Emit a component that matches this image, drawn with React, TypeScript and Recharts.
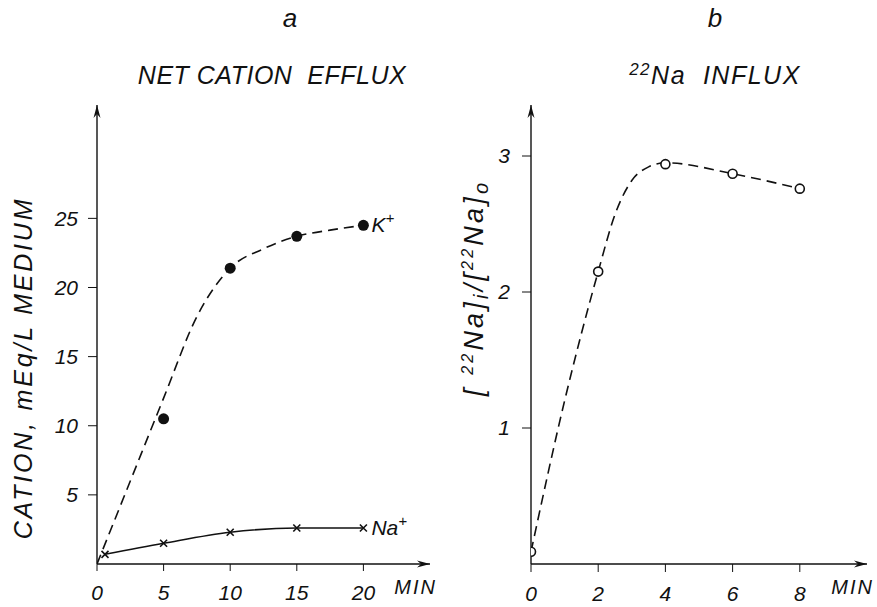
import React from "react";
import {
  ComposedChart,
  Line,
  Scatter,
  XAxis,
  YAxis,
  Label,
} from "recharts";

// panel a: net cation efflux (mEq/L medium vs min)
const effluxTicksX = [0, 5, 10, 15, 20];
const effluxTicksY = [5, 10, 15, 20, 25];
const kMeasured = [
  { t: 5, v: 10.5 },
  { t: 10, v: 21.4 },
  { t: 15, v: 23.7 },
  { t: 20, v: 24.5 },
];
// dashed K+ curve as drawn by hand in the figure
const kCurve = [
  { t: 0, v: 0 },
  { t: 2.5, v: 6 },
  { t: 5, v: 12 },
  { t: 7.5, v: 17.9 },
  { t: 10, v: 21.4 },
  { t: 12.5, v: 22.8 },
  { t: 15, v: 23.7 },
  { t: 17.5, v: 24.15 },
  { t: 20, v: 24.5 },
];
const naMeasured = [
  { t: 0.6, v: 0.7 },
  { t: 5, v: 1.5 },
  { t: 10, v: 2.3 },
  { t: 15, v: 2.6 },
  { t: 20, v: 2.6 },
];

// panel b: 22Na influx ratio vs min
const influxTicksX = [0, 2, 4, 6, 8];
const influxTicksY = [1, 2, 3];
const influxMeasured = [
  { t: 0, v: 0.09 },
  { t: 2, v: 2.15 },
  { t: 4, v: 2.94 },
  { t: 6, v: 2.87 },
  { t: 8, v: 2.76 },
];
const influxCurve = [
  { t: 0, v: 0.09 },
  { t: 1, v: 1.2 },
  { t: 2, v: 2.15 },
  { t: 2.5, v: 2.57 },
  { t: 3, v: 2.82 },
  { t: 3.5, v: 2.92 },
  { t: 4, v: 2.95 },
  { t: 6, v: 2.87 },
  { t: 8, v: 2.76 },
];

const FONT = "'Liberation Sans', Arial, sans-serif";
const INK = "#111";
const tickStyle = { fontSize: 21, fill: INK, fontStyle: "italic", fontFamily: FONT };

function ArrowDefs({ id }: { id: string }) {
  return (
    <defs>
      <marker
        id={id}
        markerUnits="userSpaceOnUse"
        markerWidth={14}
        markerHeight={10}
        refX={13}
        refY={5}
        orient="auto-start-reverse"
      >
        <path d="M0,1.5 L13,5 L0,8.5 L4,5 Z" fill={INK} />
      </marker>
    </defs>
  );
}

const minLabel = (props: any) => {
  const vb = props.viewBox;
  return (
    <text
      x={vb.x + vb.width + 7}
      y={vb.y + 30}
      textAnchor="end"
      fontSize={20}
      fontStyle="italic"
      fontFamily={FONT}
      fill={INK}
      letterSpacing={2}
    >
      MIN
    </text>
  );
};

const effluxYLabel = (props: any) => {
  const vb = props.viewBox;
  const cx = vb.x + 23;
  const cy = vb.y + 263;
  return (
    <text
      x={cx}
      y={cy}
      transform={`rotate(-90, ${cx}, ${cy})`}
      textAnchor="middle"
      dy={9}
      fontSize={25}
      fontStyle="italic"
      fontFamily={FONT}
      fill={INK}
      letterSpacing={2.8}
    >
      CATION, mEq/L MEDIUM
    </text>
  );
};

const influxYLabel = (props: any) => {
  const vb = props.viewBox;
  const cx = vb.x + 35;
  const cy = vb.y + 183;
  return (
    <text
      x={cx}
      y={cy}
      transform={`rotate(-90, ${cx}, ${cy})`}
      textAnchor="middle"
      dy={8}
      fontSize={27}
      fontStyle="italic"
      fontFamily={FONT}
      fill={INK}
      letterSpacing={3.2}
    >
      [ <tspan fontSize={16} dy={-10}>22</tspan>
      <tspan dy={10}>Na]</tspan>
      <tspan fontSize={20} dy={5}>i</tspan>
      <tspan dy={-5}>/[</tspan>
      <tspan fontSize={16} dy={-10}>22</tspan>
      <tspan dy={10}>Na]</tspan>
      <tspan fontSize={20} dy={5}>o</tspan>
    </text>
  );
};

const endLabel = (name: string, lastIndex: number) => (p: any) => {
  if (p.index !== lastIndex) return null;
  return (
    <text
      key={name}
      x={p.x + 8}
      y={p.y + 7}
      fontSize={21}
      fontStyle="italic"
      fontFamily={FONT}
      fill={INK}
    >
      {name}
      <tspan fontSize={15} dy={-9}>+</tspan>
    </text>
  );
};

const crossDot = (p: any) => {
  const s = 3.5;
  return (
    <path
      key={`x-${p.index}`}
      d={`M${p.cx - s},${p.cy - s}L${p.cx + s},${p.cy + s}M${p.cx - s},${p.cy + s}L${p.cx + s},${p.cy - s}`}
      stroke={INK}
      strokeWidth={1.6}
    />
  );
};

function EffluxChart() {
  return (
    <ComposedChart width={440} height={607} margin={{ top: 105, right: 10, left: 0, bottom: 13 }}>
      <ArrowDefs id="arrow-a" />
      <XAxis
        type="number"
        dataKey="t"
        domain={[0, 25]}
        ticks={effluxTicksX}
        allowDataOverflow
        height={30}
        tickSize={7}
        tickMargin={14}
        tick={tickStyle}
        tickLine={{ stroke: INK, strokeWidth: 1 }}
        axisLine={{ stroke: INK, strokeWidth: 1.4, markerEnd: "url(#arrow-a)" }}
        label={<Label content={minLabel} />}
      />
      <YAxis
        type="number"
        dataKey="v"
        domain={[0, 33.2]}
        ticks={effluxTicksY}
        allowDataOverflow
        width={97}
        tickSize={9}
        tickMargin={10}
        tick={tickStyle}
        tickLine={{ stroke: INK, strokeWidth: 1 }}
        axisLine={{ stroke: INK, strokeWidth: 1.4, markerStart: "url(#arrow-a)" }}
        label={<Label content={effluxYLabel} />}
      />
      <Line
        data={kCurve}
        dataKey="v"
        type="monotone"
        stroke={INK}
        strokeWidth={1.6}
        strokeDasharray="10 6"
        dot={false}
        activeDot={false}
        isAnimationActive={false}
        label={endLabel("K", kCurve.length - 1)}
      />
      <Line
        data={naMeasured}
        dataKey="v"
        type="monotone"
        stroke={INK}
        strokeWidth={1.5}
        dot={crossDot}
        activeDot={false}
        isAnimationActive={false}
        label={endLabel("Na", naMeasured.length - 1)}
      />
      <Scatter
        data={kMeasured}
        dataKey="v"
        isAnimationActive={false}
        shape={(p: any) => <circle cx={p.cx} cy={p.cy} r={5.5} fill={INK} />}
      />
    </ComposedChart>
  );
}

function InfluxChart() {
  return (
    <ComposedChart width={437} height={607} margin={{ top: 105, right: 10, left: 0, bottom: 13 }}>
      <ArrowDefs id="arrow-b" />
      <XAxis
        type="number"
        dataKey="t"
        domain={[0, 10]}
        ticks={influxTicksX}
        allowDataOverflow
        height={30}
        tickSize={8}
        tickMargin={14}
        tick={tickStyle}
        tickLine={{ stroke: INK, strokeWidth: 1 }}
        axisLine={{ stroke: INK, strokeWidth: 1.4, markerEnd: "url(#arrow-b)" }}
        label={<Label content={minLabel} />}
      />
      <YAxis
        type="number"
        dataKey="v"
        domain={[0, 3.375]}
        ticks={influxTicksY}
        allowDataOverflow
        width={91}
        tickSize={9}
        tickMargin={12}
        tick={tickStyle}
        tickLine={{ stroke: INK, strokeWidth: 1 }}
        axisLine={{ stroke: INK, strokeWidth: 1.4, markerStart: "url(#arrow-b)" }}
        label={<Label content={influxYLabel} />}
      />
      <Line
        data={influxCurve}
        dataKey="v"
        type="monotone"
        stroke={INK}
        strokeWidth={1.6}
        strokeDasharray="10 6"
        dot={false}
        activeDot={false}
        isAnimationActive={false}
      />
      <Scatter
        data={influxMeasured}
        dataKey="v"
        isAnimationActive={false}
        shape={(p: any) => (
          <circle cx={p.cx} cy={p.cy} r={4.5} fill="#fff" stroke={INK} strokeWidth={1.6} />
        )}
      />
    </ComposedChart>
  );
}

const titleStyle: React.CSSProperties = {
  position: "absolute",
  width: 400,
  textAlign: "center",
  fontFamily: FONT,
  fontStyle: "italic",
  color: INK,
  lineHeight: "30px",
  height: 30,
};

export default function App() {
  return (
    <div
      style={{
        position: "absolute",
        left: 0,
        top: 0,
        width: 877,
        height: 607,
        background: "#fff",
        fontFamily: FONT,
        overflow: "hidden",
      }}
    >
      <div style={{ ...titleStyle, left: 90, top: 3, fontSize: 26 }}>a</div>
      <div style={{ ...titleStyle, left: 72, top: 60, fontSize: 25, letterSpacing: 0.5 }}>
        NET CATION&nbsp; EFFLUX
      </div>
      <div style={{ ...titleStyle, left: 515, top: 3, fontSize: 26 }}>b</div>
      <div style={{ ...titleStyle, left: 515, top: 60, fontSize: 25, letterSpacing: 1.5 }}>
        <sup style={{ fontSize: 17, verticalAlign: 0, position: "relative", top: -9 }}>22</sup>
        Na&nbsp; INFLUX
      </div>
      <div style={{ position: "absolute", left: 0, top: 0 }}>
        <EffluxChart />
      </div>
      <div style={{ position: "absolute", left: 440, top: 0 }}>
        <InfluxChart />
      </div>
    </div>
  );
}
